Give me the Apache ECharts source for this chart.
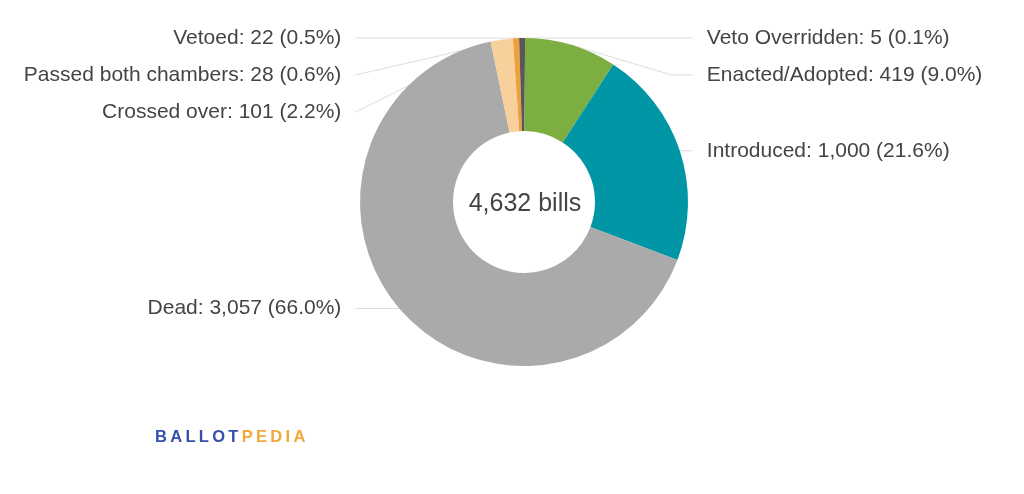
<!DOCTYPE html>
<html>
<head>
<meta charset="utf-8">
<script src="https://cdn.jsdelivr.net/npm/echarts@6/dist/echarts.min.js"></script>
<style>
html,body{margin:0;padding:0;background:#fff;}
#chart{width:1024px;height:494px;}
</style>
</head>
<body>
<div id="chart"></div>
<script>
const categories = ['Veto Overridden', 'Enacted/Adopted', 'Introduced', 'Dead', 'Crossed over', 'Passed both chambers', 'Vetoed'];
const values = [5, 419, 1000, 3057, 101, 28, 22];
const colors = ['#58585b', '#7cae42', '#0096a6', '#aaaaaa', '#f8d09c', '#f0a03a', '#58585b'];
const centerLabel = 'bills';
const logoParts = ['BALLOT', 'PEDIA'];

const total = values.reduce((a, b) => a + b, 0);
const spaced = s => s.split('').join('\u2009');
const chart = echarts.init(document.getElementById('chart'));
chart.setOption({
  animation: false,
  backgroundColor: '#fff',
  graphic: [
    {
      type: 'text', x: 155, y: 437,
      style: {
        rich: {
          a: {fill: '#3450a8', fontSize: 16.5, fontWeight: 'bold', fontFamily: 'Liberation Sans, Arial, sans-serif'},
          b: {fill: '#f5a73b', fontSize: 16.5, fontWeight: 'bold', fontFamily: 'Liberation Sans, Arial, sans-serif'}
        },
        text: '{a|' + spaced(logoParts[0]) + '\u2009}{b|' + spaced(logoParts[1]) + '}',
        verticalAlign: 'middle'
      }
    },
    {
      type: 'text', x: 525, y: 204,
      style: {
        text: total.toLocaleString('en-US') + ' ' + centerLabel,
        fontSize: 25, fill: '#444', fontFamily: 'Liberation Sans, Arial, sans-serif',
        align: 'center', verticalAlign: 'middle'
      }
    }
  ],
  series: [{
    type: 'pie',
    center: [524, 202],
    radius: [71, 164],
    startAngle: 90,
    clockwise: true,
    avoidLabelOverlap: true,
    itemStyle: {borderWidth: 0},
    label: {
      show: true,
      fontSize: 21,
      lineHeight: 31,
      padding: [4, 0, 0, 0],
      color: '#444',
      fontFamily: 'Liberation Sans, Arial, sans-serif',
      alignTo: 'labelLine',
      distanceToLabelLine: 14,
      formatter: p => p.name + ': ' + p.value.toLocaleString('en-US') + ' (' + (p.value / total * 100).toFixed(1) + '%)'
    },
    labelLine: {
      show: true, length: 0, length2: 13, smooth: false,
      lineStyle: {color: '#dddddd', width: 1}
    },
    emphasis: {disabled: true},
    data: categories.map((c, i) => ({
      name: c, value: values[i], itemStyle: {color: colors[i]},
      labelLine: c === 'Dead' ? {length2: 44} : undefined
    }))
  }]
});
</script>
</body>
</html>
